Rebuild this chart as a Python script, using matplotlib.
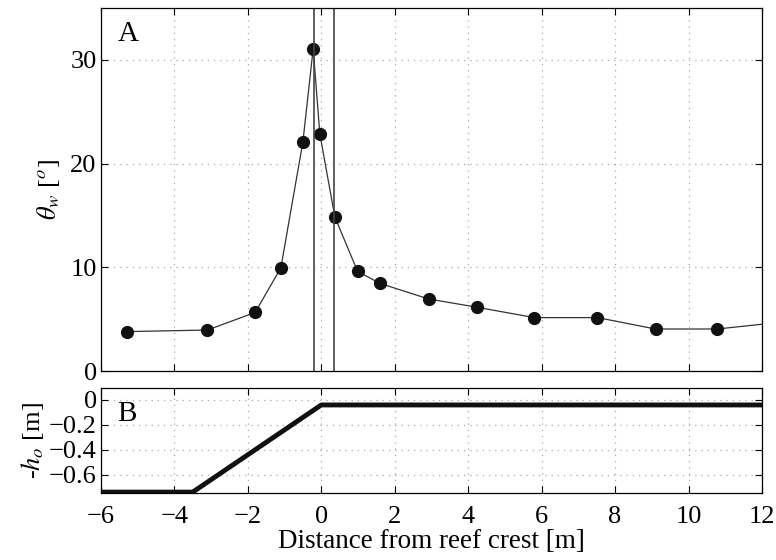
import matplotlib
matplotlib.use('Agg')
import matplotlib.pyplot as plt
import numpy as np

# wave angle along the transect
dist = [-5.30, -3.10, -1.80, -1.10, -0.50, -0.22, -0.04, 0.37, 0.99, 1.60,
        2.92, 4.24, 5.80, 7.52, 9.10, 10.78, 12.5]
theta_w = [3.8, 3.95, 5.65, 9.95, 22.1, 31.1, 22.9, 14.85, 9.6, 8.45,
           6.95, 6.15, 5.15, 5.15, 4.05, 4.05, 4.7]
crest_lines = [-0.21, 0.35]

# reef profile (1:5 slope up to the crest)
prof_x = [-6, -3.5, 0, 12]
prof_h = [-0.74, -0.74, -0.04, -0.04]

x_ticks = [-6, -4, -2, 0, 2, 4, 6, 8, 10, 12]

plt.rcParams['font.family'] = ['Liberation Serif', 'DejaVu Serif']
plt.rcParams['mathtext.fontset'] = 'stix'

fig = plt.figure(figsize=(7.76, 5.6), dpi=100)
ax1 = fig.add_axes([0.130, 0.3375, 0.852, 0.648])
ax2 = fig.add_axes([0.130, 0.119, 0.852, 0.189])

for ax in (ax1, ax2):
    ax.set_xlim(-6, 12)
    ax.set_xticks(x_ticks)
    ax.tick_params(direction='in', top=True, right=True, length=5, width=0.8,
                   labelsize=19, pad=3)
    ax.grid(True, linestyle=(0, (1, 4)), color='#a8a8a8', linewidth=0.9)
    for s in ax.spines.values():
        s.set_linewidth(0.9)

ax1.plot(dist, theta_w, '-', color='#333333', lw=0.9, marker='o', ms=8.5,
         mfc='#111111', mec='#111111')
for xc in crest_lines:
    ax1.axvline(xc, color='#444444', lw=1.2)
ax1.set_ylim(0, 35)
ax1.set_yticks([0, 10, 20, 30])
ax1.set_xticklabels([])
ax1.set_ylabel(r'$\theta_w$ [$^o$]', fontsize=19, labelpad=6)
ax1.text(0.025, 0.965, 'A', transform=ax1.transAxes, fontsize=21,
         va='top', ha='left')

ax2.plot(prof_x, prof_h, '-', color='#111111', lw=3.5)
ax2.set_ylim(-0.75, 0.1)
ax2.set_yticks([0, -0.2, -0.4, -0.6])
ax2.set_yticklabels(['0', '\u22120.2', '\u22120.4', '\u22120.6'])
ax2.set_xticklabels([str(t).replace('-', '\u2212') for t in x_ticks])
ax2.tick_params(axis='x', pad=9)
ax2.set_ylabel(r'-$h_o$ [m]', fontsize=19, labelpad=2)
ax2.set_xlabel('Distance from reef crest [m]', fontsize=19.5, labelpad=1)
ax2.text(0.025, 0.87, 'B', transform=ax2.transAxes, fontsize=21,
         va='top', ha='left')

fig.savefig('out.png', dpi=100)
